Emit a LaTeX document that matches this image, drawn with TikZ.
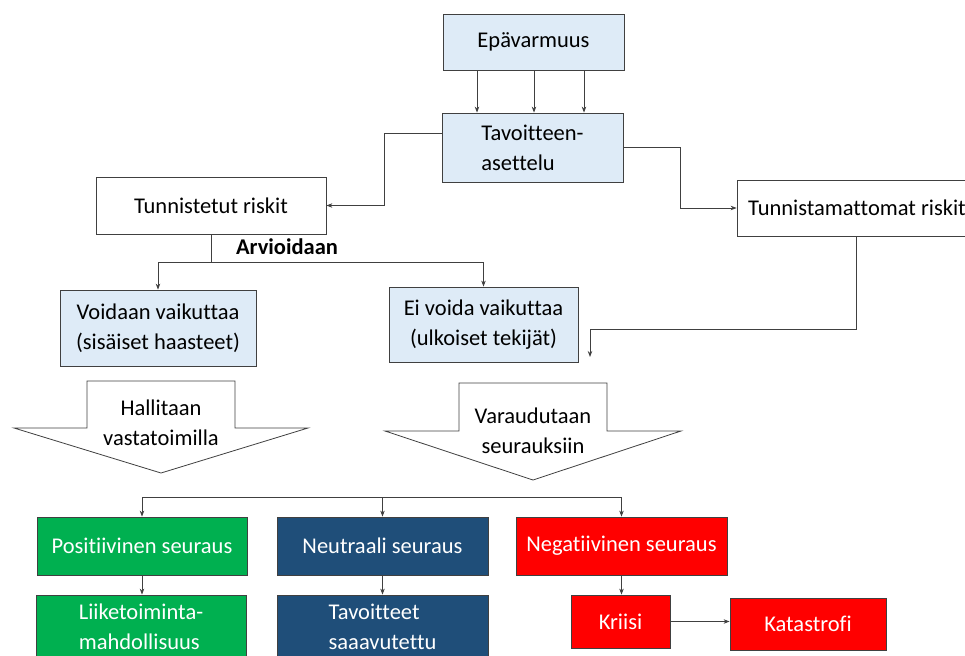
\documentclass[tikz,border=0pt]{standalone}
\usepackage{fontspec}
\setmainfont{Carlito}[Ligatures=NoCommon]
\usetikzlibrary{positioning, arrows.meta, calc}
\definecolor{paleblue}{HTML}{DEEBF7}
\definecolor{posgreen}{HTML}{00B050}
\definecolor{neutblue}{HTML}{1F4E79}
\definecolor{edgegray}{HTML}{404040}

\begin{document}
\begin{tikzpicture}[
  x=1pt, y=-1pt,
  >={Stealth[length=6pt, width=4.5pt]},
  every node/.style={font=\fontsize{22.5}{30}\selectfont},
  box/.style={draw=edgegray, line width=0.8pt, inner sep=2pt, align=center},
  bluebox/.style={box, fill=paleblue},
  redbox/.style={box, fill=red, text=white},
  greenbox/.style={box, fill=posgreen, text=white},
  navybox/.style={box, fill=neutblue, text=white},
  link/.style={draw=edgegray, line width=0.8pt},
  bigarrow/.style={draw=edgegray, fill=white, line width=0.8pt}
]
\useasboundingbox (0,0) rectangle (965,655);
\clip (0,0) rectangle (965,655);

% Top: uncertainty and goal setting
\node[bluebox, minimum width=181pt, minimum height=56pt] (epa) at (533.5, 42) {Epävarmuus};
\node[bluebox, minimum width=181pt, minimum height=69pt, align=left] (tav) at (532.5, 147.5)
  {Tavoitteen-\\asettelu};
\foreach \x in {477, 534, 584}
  \draw[link, ->] (\x,0 |- epa.south) -- (\x,0 |- tav.north);

% Identified / unidentified risks
\node[box, minimum width=230pt, minimum height=57pt] (tun) at (211, 205.5) {Tunnistetut riskit};
\node[box, minimum width=240pt, minimum height=56pt] (tunm) at (857, 208) {Tunnistamattomat riskit};
\draw[link, ->] ([yshift=14pt]tav.west) -- ++(-57,0) |- (tun.east);
\draw[link, ->] (tav.east) -- ++(57,0) |- (tunm.west);

% Assessment
\node[bluebox, minimum width=196pt, minimum height=76pt] (voi) at (158, 328)
  {Voidaan vaikuttaa\\(sisäiset haasteet)};
\node[bluebox, minimum width=189pt, minimum height=75pt] (ei) at (483.5, 324.5)
  {Ei voida vaikuttaa\\(ulkoiset tekijät)};
\draw[link] (tun.south) -- ++(0,28) coordinate (split);
\node[font=\fontsize{22.5}{30}\selectfont\bfseries] (arv) at (287, 247) {Arvioidaan};
\draw[link, ->] (split) -| (voi.north);
\draw[link, ->] (split) -| (ei.north);
\coordinate (varin) at (590, 357);
\draw[link, ->] ([xshift=-1pt]tunm.south) |- ($(varin)+(0,-28)$) -- (varin);

% Block arrows
\draw[bigarrow] (87,381) -- (235,381) -- (235,428) -- (308,428) -- (161,473)
  -- (14,428) -- (87,428) -- cycle;
\node[align=center] (hal) at (161, 423) {Hallitaan\\vastatoimilla};
\draw[bigarrow] (459,383) -- (607,383) -- (607,431) -- (681,431) -- (533,480)
  -- (385,431) -- (459,431) -- cycle;
\node[align=center] (var) at (533, 431) {Varaudutaan\\seurauksiin};

% Consequences
\node[greenbox, minimum width=210pt, minimum height=58pt] (pos) at (142, 546) {Positiivinen seuraus};
\node[navybox, minimum width=211pt, minimum height=58pt] (neu) at (382.5, 546) {Neutraali seuraus};
\node[redbox, minimum width=211pt, minimum height=58pt] (neg) at (621.5, 546) {Negatiivinen seuraus};
\coordinate (fan) at (383, 497);
\draw[link] (pos.north |- fan) -- (neg.north |- fan);
\foreach \n in {pos, neu, neg}
  \draw[link, ->] (\n.north |- fan) -- (\n.north);

\node[greenbox, minimum width=210pt, minimum height=64pt, align=left] (lik) at (141, 627)
  {Liiketoiminta-\\mahdollisuus};
\node[navybox, minimum width=211pt, minimum height=64pt, align=left] (tvt) at (382.5, 627)
  {Tavoitteet\\saaavutettu};
\node[redbox, minimum width=99pt, minimum height=53pt] (kri) at (620.5, 621.5) {Kriisi};
\node[redbox, minimum width=156pt, minimum height=52pt] (kat) at (808, 624) {Katastrofi};
\draw[link, ->] (pos.south) -- (pos.south |- lik.north);
\draw[link, ->] (neu.south) -- (neu.south |- tvt.north);
\draw[link, ->] (neg.south) -- (neg.south |- kri.north);
\draw[link, ->] (kri.east) -- (kri.east -| kat.west);
\end{tikzpicture}
\end{document}
